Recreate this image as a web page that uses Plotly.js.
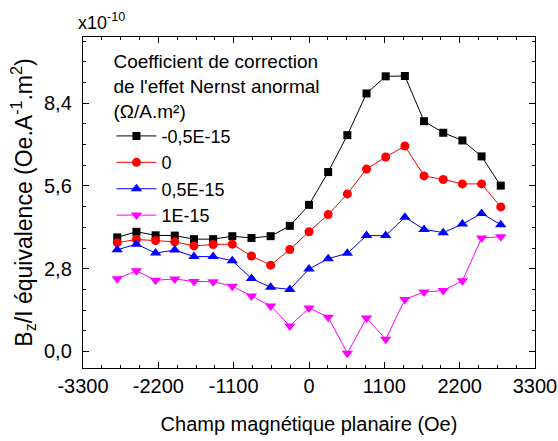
<!DOCTYPE html>
<html>
<head>
<meta charset="utf-8">
<script src="https://cdn.plot.ly/plotly-3.0.1.min.js"></script>
<style>html,body{margin:0;padding:0;background:#fff;}#chart{width:558px;height:441px;}</style>
</head>
<body>
<div id="chart"></div>
<script>
const fieldOe = [-2800,-2520,-2240,-1960,-1680,-1400,-1120,-840,-560,-280,0,280,560,840,1120,1400,1680,1960,2240,2520,2800];
const seriesNames = ['-0,5E-15','0','0,5E-15','1E-15'];
const valsNeg05 = [3.86,4.05,3.93,3.92,3.80,3.80,3.90,3.84,3.90,4.25,4.96,6.07,7.32,8.73,9.31,9.32,7.79,7.40,7.14,6.60,5.61];
const valsZero  = [3.68,3.79,3.75,3.71,3.57,3.62,3.63,3.23,2.92,3.45,4.05,4.63,5.33,6.17,6.58,6.95,5.94,5.82,5.67,5.67,4.89];
const valsPos05 = [3.44,3.63,3.33,3.43,3.21,3.21,3.07,2.47,2.17,2.10,2.79,3.14,3.32,3.92,3.92,4.54,4.13,4.02,4.31,4.67,4.29];
const valsPos1  = [2.46,2.73,2.41,2.45,2.37,2.36,2.21,1.88,1.54,0.86,1.47,1.16,-0.06,1.13,0.41,1.76,2.01,2.06,2.39,3.84,3.88];
const yTickVals = [0, 2.8, 5.6, 8.4];
const xTickVals = [-3300,-2200,-1100,0,1100,2200,3300];
const xTickText = ['-3300','-2200','-1100','0','1100','2200','3300'];

const colors = ['#000000','#ff0000','#0000ff','#ff00ff'];
const symbols = ['square','circle','triangle-up','triangle-down'];
const sizes = [8,9,10,10];
const allVals = [valsNeg05, valsZero, valsPos05, valsPos1];

const traces = allVals.map((v,i)=>({
  x: fieldOe, y: v, name: seriesNames[i], type:'scatter', mode:'lines+markers',
  line:{color:colors[i], width:1},
  marker:{color:colors[i], symbol:symbols[i], size:sizes[i], line:{width:0}}
}));

const fam = '"Liberation Sans", Arial, sans-serif';
const layout = {
  width:558, height:441,
  margin:{l:83, r:23, t:37, b:73},
  paper_bgcolor:'#fff', plot_bgcolor:'#fff',
  separators:', ',
  font:{family:fam, size:19, color:'#000'},
  showlegend:true,
  legend:{
    x:0.063, y:0.98, xanchor:'left', yanchor:'top',
    bgcolor:'rgba(0,0,0,0)', borderwidth:0,
    font:{family:fam, size:18, color:'#000'},
    title:{text:'Coefficient de correction<br>de l\'effet Nernst anormal<br>(Ω/A.m²)', font:{family:fam, size:19}},
    itemwidth:40, tracegroupgap:0
  },
  xaxis:{
    range:[-3300,3300], tickmode:'array', tickvals:xTickVals, ticktext:xTickText,
    ticks:'inside', ticklen:6, tickwidth:1, tickcolor:'#000',
    minor:{dtick:275, tick0:0, ticks:'inside', ticklen:3, tickcolor:'#000', showgrid:false},
    showline:true, linecolor:'#000', linewidth:1.2, mirror:'ticks',
    showgrid:false, zeroline:false,
    tickfont:{family:fam, size:20},
    title:{text:'Champ magnétique planaire (Oe)', font:{family:fam, size:20}, standoff:20}
  },
  yaxis:{
    range:[-0.56,10.64], tickmode:'array', tickvals:yTickVals, tickformat:'.1f',
    ticks:'inside', ticklen:6, tickwidth:1, tickcolor:'#000',
    minor:{dtick:0.7, tick0:0, ticks:'inside', ticklen:3, tickcolor:'#000', showgrid:false},
    showline:true, linecolor:'#000', linewidth:1.2, mirror:'ticks',
    showgrid:false, zeroline:false, ticklabelstandoff:6,
    tickfont:{family:fam, size:20},
    title:{text:'B<sub>z</sub>/I équivalence (Oe.A<sup>-1</sup>.m<sup>2</sup>)', font:{family:fam, size:23}, standoff:5}
  },
  annotations:[{
    text:'x10<sup>-10</sup>', xref:'paper', yref:'paper', x:-0.015, y:1.0, xanchor:'left', yanchor:'bottom',
    showarrow:false, font:{family:fam, size:18, color:'#000'}, yshift:2
  }]
};
Plotly.newPlot('chart', traces, layout, {staticPlot:true, displayModeBar:false});
</script>
</body>
</html>
